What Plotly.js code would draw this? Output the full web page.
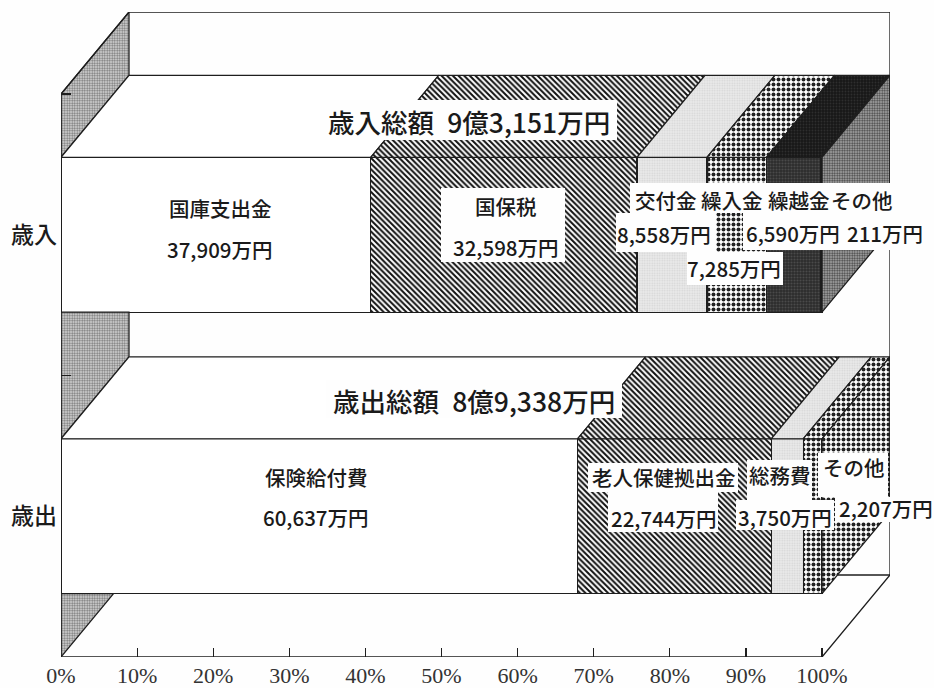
<!DOCTYPE html>
<html><head><meta charset="utf-8">
<script src="https://cdn.plot.ly/plotly-3.0.1.min.js"></script>
<style>html,body{margin:0;padding:0;background:#fefefe}#c{width:934px;height:688px}</style>
</head><body><div id="c"></div>
<script>
// ---- data (万円) ----
const categories = ['歳出', '歳入'];
const revenueNames = ['国庫支出金', '国保税', '交付金', '繰入金', '繰越金', 'その他'];
const revenueValues = [37909, 32598, 8558, 7285, 6590, 211];
const expenseNames = ['保険給付費', '老人保健拠出金', '総務費', 'その他'];
const expenseValues = [60637, 22744, 3750, 2207];
const tickPercents = [0, 10, 20, 30, 40, 50, 60, 70, 80, 90, 100];
const tickLabels = ['0%', '10%', '20%', '30%', '40%', '50%', '60%', '70%', '80%', '90%', '100%'];

// ---- fills ----
const INK = '#1e1e1e';
const plain = {shape: '', bgcolor: '#ffffff', fgcolor: '#ffffff', size: 4, solidity: 0.5};
const hatch = {shape: '\\', bgcolor: '#ffffff', fgcolor: '#111111', size: 4, solidity: 0.5};
const light = {shape: '.', bgcolor: '#ececec', fgcolor: '#d4d4d4', size: 2.5, solidity: 0.4};
const check = {shape: '.', bgcolor: '#ffffff', fgcolor: '#222222', size: 5, solidity: 0.5};
const dark = {shape: '.', bgcolor: '#2c2c2c', fgcolor: '#4a4a4a', size: 3, solidity: 0.4};
const black = {shape: '.', bgcolor: '#171717', fgcolor: '#2e2e2e', size: 3, solidity: 0.3};
const gray = {shape: '.', bgcolor: '#f0f0f0', fgcolor: '#555555', size: 2.5, solidity: 0.55};
const graySide = {shape: '.', bgcolor: '#b4b4b4', fgcolor: '#444444', size: 2.5, solidity: 0.5};
const revenueFront = [plain, hatch, light, check, dark, gray];
const revenueTop = [plain, hatch, light, check, black, black];
const expenseFront = [plain, hatch, light, check];
const expenseTop = [plain, hatch, light, check];

// ---- projection of the pseudo-3D box ----
const BAR_W = 0.55;          // bar thickness in category units
const DX = 68 / 7.61;        // depth in percent units
const DY = 82 / 281.5;       // depth in category units
const X_MAX = 100 + DX, Y_MAX = 2 + DY;
const L = 61, T = 12, R = 890, B = 657;
const pxX = p => (p - L) / (R - L), pxY = p => (B - p) / (B - T);

function poly(xs, ys, pattern) {
  return {type: 'scatter', mode: 'lines', x: [...xs, xs[0]], y: [...ys, ys[0]], fill: 'toself',
    fillcolor: pattern.bgcolor, fillpattern: pattern.shape ? pattern : undefined,
    line: {color: INK, width: 1.3}, hoverinfo: 'skip', showlegend: false, cliponaxis: false};
}
function seg(xs, ys) {
  return {type: 'scatter', mode: 'lines', x: xs, y: ys, line: {color: INK, width: 1.3},
    hoverinfo: 'skip', showlegend: false, cliponaxis: false};
}
function barTraces(names, values, y, styles) {
  return values.map((v, i) => ({type: 'bar', orientation: 'h', name: names[i], x: [v], y: [y], width: BAR_W,
    marker: {color: styles[i].bgcolor, pattern: styles[i], line: {color: INK, width: 1.3}},
    hoverinfo: 'skip', showlegend: false}));
}
function faces(values, y, topStyles, sideStyle) {
  const total = values.reduce((a, b) => a + b, 0);
  const out = [];
  const top = y + BAR_W / 2, bot = y - BAR_W / 2;
  let c = 0;
  values.forEach((v, i) => {
    const a = c / total * 100, b = (c + v) / total * 100;
    out.push(poly([a, b, b + DX, a + DX], [top, top, top + DY, top + DY], topStyles[i]));
    c += v;
  });
  out.push(poly([100, 100 + DX, 100 + DX, 100], [top, top + DY, bot + DY, bot], sideStyle));
  return out;
}

const yRev = 1.5, yExp = 0.5;
const wallFill = {shape: '.', bgcolor: '#e2e2e2', fgcolor: '#777777', size: 2.5, solidity: 0.5};
const floorX = DX * (yExp - BAR_W / 2) / DY;
const floorBackX = 100 + DX * (DY - (yExp - BAR_W / 2)) / DY;

const traces = [
  ...barTraces(revenueNames, revenueValues, yRev, revenueFront),
  ...barTraces(expenseNames, expenseValues, yExp, expenseFront),
  seg([floorBackX, 100 + DX], [DY, DY]),
  poly([0, DX, DX, 0], [2, 2 + DY, yRev + BAR_W / 2 + DY, yRev + BAR_W / 2], wallFill),
  poly([0, DX, DX, 0], [yRev - BAR_W / 2, yRev - BAR_W / 2, yExp + BAR_W / 2 + DY, yExp + BAR_W / 2], wallFill),
  poly([0, floorX, 0], [yExp - BAR_W / 2, yExp - BAR_W / 2, 0], wallFill),
  ...faces(revenueValues, yRev, revenueTop, graySide),
  ...faces(expenseValues, yExp, expenseTop, check),
  seg([0, 0], [0, 2]),
  seg([0, 100, 100 + DX, 100 + DX, DX, 0], [0, 0, DY, 2 + DY, 2 + DY, 2])
];

// ---- white label plates, page pixels: [x0, x1, y0, y1] ----
const plates = [
  [320, 617, 100, 140], [441, 565, 188, 262],
  [630, 890, 183, 213], [616, 716, 213, 252], [743, 922, 213, 250], [687, 783, 252, 285],
  [326, 622, 380, 418],
  [588, 738, 463, 492], [608, 718, 492, 532], [747, 812, 460, 500], [736, 834, 500, 530],
  [818, 888, 453, 497], [835, 934, 497, 522]
];
const shapes = plates.map(p => ({type: 'rect', xref: 'paper', yref: 'paper', layer: 'above',
  x0: pxX(p[0]), x1: pxX(p[1]), y0: pxY(p[3]), y1: pxY(p[2]), fillcolor: '#fefefe', line: {width: 0}}));

const F_JP = '"Noto Sans CJK JP"';
const yen = v => v.toLocaleString('en-US') + '万円';
const labels = [
  ['歳入総額\u20029億3,151万円', 469, 121, 26.5],
  ['歳出総額\u20028億9,338万円', 473.5, 400, 26.5],
  [revenueNames[0], 220, 208, 20.5], [yen(revenueValues[0]), 220, 249, 20.5],
  [revenueNames[1], 506, 206, 20.5], [yen(revenueValues[1]), 506, 247, 20.5],
  [revenueNames[2], 666, 200, 20.5], [yen(revenueValues[2]), 664, 234, 20.5],
  [revenueNames[3], 732, 200, 20.5], [yen(revenueValues[3]), 734, 268, 20.5],
  [revenueNames[4], 799, 200, 20.5], [yen(revenueValues[4]), 793, 233, 20.5],
  [revenueNames[5], 862, 200, 20.5], [yen(revenueValues[5]), 885, 233, 20.5],
  [expenseNames[0], 316, 477, 20.5], [yen(expenseValues[0]), 316, 517, 20.5],
  [expenseNames[1], 663.5, 477, 20.5], [yen(expenseValues[1]), 664, 518, 20.5],
  [expenseNames[2], 780, 475, 20.5], [yen(expenseValues[2]), 785, 517, 20.5],
  [expenseNames[3], 854, 467, 20.5], [yen(expenseValues[3]), 886, 508, 20.5]
];
const annotations = labels.map(a => ({text: a[0], xref: 'paper', yref: 'paper', x: pxX(a[1]), y: pxY(a[2]),
  xanchor: 'center', yanchor: 'middle', showarrow: false, font: {family: F_JP, size: a[3], color: '#1a1a1a', weight: 500}}));

const layout = {
  width: 934, height: 688, showlegend: false, hovermode: false, dragmode: false,
  paper_bgcolor: '#fefefe', plot_bgcolor: '#fefefe',
  barmode: 'stack', barnorm: 'percent',
  margin: {l: L, t: T, r: 934 - R, b: 688 - B, pad: 0},
  xaxis: {range: [0, X_MAX], tickmode: 'array', tickvals: tickPercents, ticktext: tickLabels,
    ticks: 'inside', ticklen: 9, tickcolor: INK, tickwidth: 1.2, showgrid: false, zeroline: false, showline: false,
    ticklabelstandoff: 3,
    tickfont: {family: '"Liberation Serif"', size: 22, color: '#333333'}},
  yaxis: {range: [0, Y_MAX], tickmode: 'array', tickvals: [yExp, yRev], ticktext: categories,
    ticks: '', showgrid: false, zeroline: false, showline: false, ticklabelstandoff: 3,
    minor: {tickmode: 'array', tickvals: [1, 2], ticks: 'inside', ticklen: 10, tickcolor: INK, tickwidth: 1.2, showgrid: false},
    tickfont: {family: F_JP, size: 23, color: '#1a1a1a', weight: 500}},
  shapes, annotations
};
Plotly.newPlot('c', traces, layout, {displayModeBar: false, staticPlot: true});
</script></body></html>
